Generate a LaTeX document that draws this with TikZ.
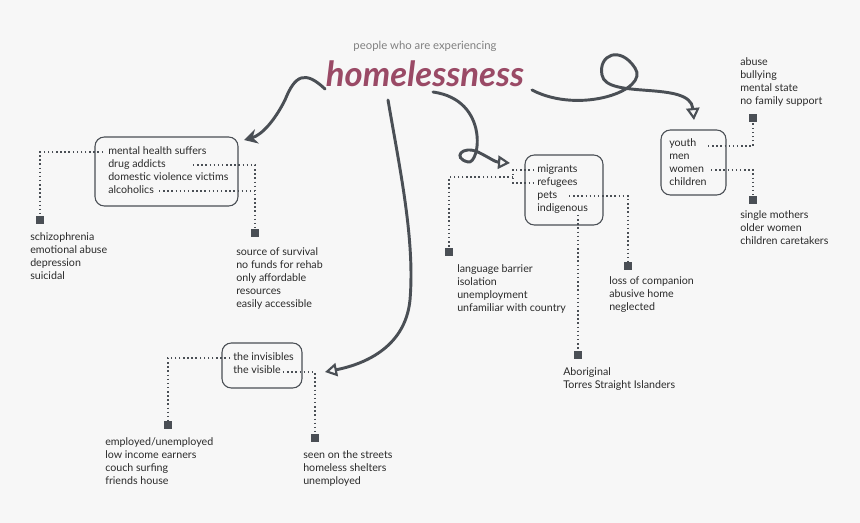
\documentclass[tikz,border=0pt]{standalone}
\usepackage{fontspec}
\setmainfont{Lato}
\usetikzlibrary{arrows.meta}
\definecolor{ink}{HTML}{4A4F55}
\definecolor{txt}{HTML}{2B2B2B}
\definecolor{plum}{HTML}{9A4A66}
\tikzset{
  lbl/.style={anchor=north west,inner sep=0pt,align=left,text=txt,font=\fontsize{8}{9.75}\selectfont},
  box/.style={draw=ink,rounded corners=7pt,line width=0.8pt},
  dot/.style={draw=ink,line width=1.1pt,dotted},
  sq/.style={fill=ink,minimum size=6.5pt,inner sep=0pt},
  big/.style={draw=ink,line width=2.2pt,line cap=round},
  open/.style={-{Triangle[open,length=9pt,width=10pt,line width=1.6pt]}},
}
\begin{document}
\begin{tikzpicture}[x=0.75pt,y=-0.75pt]
\fill[white!97!black] (0,0) rectangle (860,523);
\useasboundingbox (0,0) rectangle (860,523);
\node[text=gray,font=\fontsize{8.5}{10}\selectfont] (sub) at (425,46) {people who are experiencing};
\node[text=plum,font=\fontsize{26}{28}\selectfont\bfseries\itshape] (title) at (425,74) {homelessness};
% box 1
\draw[box] (95,137) rectangle (238,206);
\node[lbl] (b1) at (108,146) {mental health suffers\\drug addicts\\domestic violence victims\\alcoholics};
\node[sq] (s1) at (40,220) {};
\node[lbl] (t1) at (30,232) {schizophrenia\\emotional abuse\\depression\\suicidal};
\node[sq] (s2) at (255,233) {};
\node[lbl] (t2) at (236,247) {source of survival\\no funds for rehab\\only affordable\\resources\\easily accessible};
\draw[dot] (103,152) -- (40,152) -- (s1);
\draw[dot] (193,165) -- (255,165) -- (s2);
\draw[dot] (159,191) -- (255,191);
% box 2
\draw[box] (525,155) rectangle (603,225);
\node[lbl] (b2) at (537,164) {migrants\\refugees\\pets\\indigenous};
\node[sq] (s3) at (449,252) {};
\node[lbl] (t3) at (457,264) {language barrier\\isolation\\unemployment\\unfamiliar with country};
\node[sq] (s4) at (628,266) {};
\node[lbl] (t4) at (609,276) {loss of companion\\abusive home\\neglected};
\node[sq] (s5) at (578,355) {};
\node[lbl] (t5) at (563,367) {Aboriginal\\Torres Straight Islanders};
\draw[dot] (534,170) -- (513,170) -- (513,183) -- (534,183);
\draw[dot] (513,177) -- (449,177) -- (s3);
\draw[dot] (569,196) -- (628,196) -- (s4);
\draw[dot] (578,215) -- (s5);
% box 3
\draw[box] (661,130) rectangle (726,195);
\node[lbl] (b3) at (669,138) {youth\\men\\women\\children};
\node[sq] (s6) at (753,118) {};
\node[lbl] (t6) at (740,57) {abuse\\bullying\\mental state\\no family support};
\node[sq] (s7) at (753,200) {};
\node[lbl] (t7) at (740,210) {single mothers\\older women\\children caretakers};
\draw[dot] (708,146) -- (753,146) -- (s6);
\draw[dot] (711,170) -- (753,170) -- (s7);
% box 4
\draw[box] (222,343) rectangle (302,388);
\node[lbl] (b4) at (233,352) {the invisibles\\the visible};
\node[sq] (s8) at (168,425) {};
\node[lbl] (t8) at (105,437) {employed/unemployed\\low income earners\\couch surfing\\friends house};
\node[sq] (s9) at (315,438) {};
\node[lbl] (t9) at (303,450) {seen on the streets\\homeless shelters\\unemployed};
\draw[dot] (230,358) -- (168,358) -- (s8);
\draw[dot] (283,372) -- (315,372) -- (s9);
% big arrows
\draw[big,-{Stealth[length=10pt,width=11pt]}] (325,89) .. controls (305,70) and (295,75) .. (285,100) .. controls (275,120) and (262,135) .. (244,140);
\draw[big,open] (433,92) .. controls (490,100) and (480,165) .. (468,162) .. controls (452,158) and (462,145) .. (478,152) .. controls (490,158) and (495,162) .. (510,163);
\draw[big,open] (532,90) .. controls (580,115) and (650,90) .. (635,68) .. controls (620,45) and (598,55) .. (602,75) .. controls (606,100) and (690,80) .. (694,120);
\draw[big,open] (388,100) .. controls (400,170) and (415,240) .. (410,300) .. controls (405,350) and (360,365) .. (325,372);
\end{tikzpicture}
\end{document}
